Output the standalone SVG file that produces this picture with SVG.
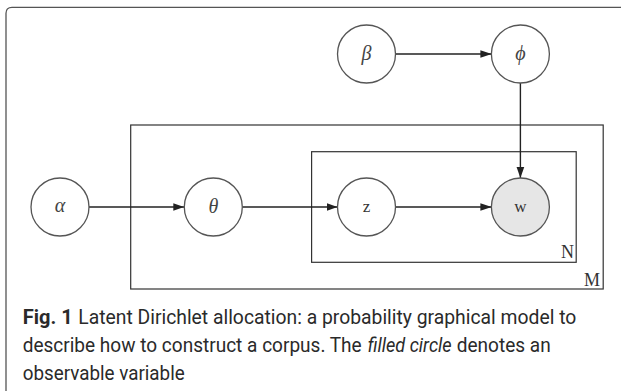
<svg xmlns="http://www.w3.org/2000/svg" width="621" height="391" viewBox="0 0 621 391">
<defs>
<marker id="arr" viewBox="0 0 10 10" refX="10" refY="5" markerWidth="11" markerHeight="11" markerUnits="userSpaceOnUse" orient="auto">
<path d="M0,1.5 L10,5 L0,8.5 Z" fill="#222"/>
</marker>
<style>
.node{fill:#fff;stroke:#555;stroke-width:1.3}
.obs{fill:#e6e6e6}
.edge{stroke:#222;stroke-width:1.4;fill:none}
.plate{fill:none;stroke:#333;stroke-width:1.2}
.math{font-family:"Liberation Serif","DejaVu Serif",serif;font-style:italic;font-size:20px;fill:#444;text-anchor:middle}
.rm{font-family:"Liberation Serif",serif;font-size:17px;fill:#333;text-anchor:middle}
.plab{font-family:"Liberation Serif",serif;font-size:18px;fill:#333;text-anchor:end}
.cap{font-family:Roboto,"Open Sans",sans-serif;font-size:19.7px;fill:#2a2a2a}
</style>
</defs>
<rect width="621" height="391" fill="#fff"/>
<path d="M6,394 L6,13.3 Q6,7.3 12,7.3 L625,7.3" fill="none" stroke="#555" stroke-width="1.3"/>
<g id="plate-M"><rect class="plate" x="130.7" y="125" width="472.5" height="164" stroke="#555"/><text class="plab" x="600" y="286">M</text></g>
<g id="plate-N"><rect class="plate" x="311.6" y="151.7" width="264.6" height="110.6"/><text class="plab" x="574" y="258">N</text></g>
<g id="connectors">
<line class="edge" x1="395.5" y1="54" x2="491.4" y2="54" marker-end="url(#arr)"/>
<line class="edge" x1="520.4" y1="83" x2="520.4" y2="178" marker-end="url(#arr)"/>
<line class="edge" x1="89" y1="207" x2="184.3" y2="207" marker-end="url(#arr)"/>
<line class="edge" x1="242.3" y1="207" x2="337.5" y2="207" marker-end="url(#arr)"/>
<line class="edge" x1="395.5" y1="207" x2="491.4" y2="207" marker-end="url(#arr)"/>
</g>
<g id="node-beta"><circle class="node" cx="366.5" cy="54" r="29"/><text class="math" x="366.5" y="60">β</text></g>
<g id="node-phi"><circle class="node" cx="520.4" cy="54" r="29"/><text class="math" x="520.4" y="60">ϕ</text></g>
<g id="node-alpha"><circle class="node" cx="60" cy="207" r="29"/><text class="math" x="60" y="212">α</text></g>
<g id="node-theta"><circle class="node" cx="213.3" cy="207" r="29"/><text class="math" x="213.3" y="213">θ</text></g>
<g id="node-z"><circle class="node" cx="366.5" cy="207" r="29"/><text class="rm" x="366.5" y="212">z</text></g>
<g id="node-w"><circle class="node obs" cx="520.4" cy="207" r="29"/><text class="rm" x="520.4" y="212">w</text></g>
<g id="caption">
<text class="cap" x="22.7" y="324" font-weight="bold" textLength="50" lengthAdjust="spacingAndGlyphs">Fig. 1</text>
<text class="cap" x="78.3" y="324" textLength="498" lengthAdjust="spacingAndGlyphs">Latent Dirichlet allocation: a probability graphical model to</text>
<text class="cap" x="22.7" y="352" textLength="339" lengthAdjust="spacingAndGlyphs">describe how to construct a corpus. The</text>
<text class="cap" x="367.7" y="352" font-style="italic" textLength="84" lengthAdjust="spacingAndGlyphs">filled circle</text>
<text class="cap" x="456.7" y="352" textLength="94" lengthAdjust="spacingAndGlyphs">denotes an</text>
<text class="cap" x="22.7" y="380" textLength="162" lengthAdjust="spacingAndGlyphs">observable variable</text>
</g>
</svg>
